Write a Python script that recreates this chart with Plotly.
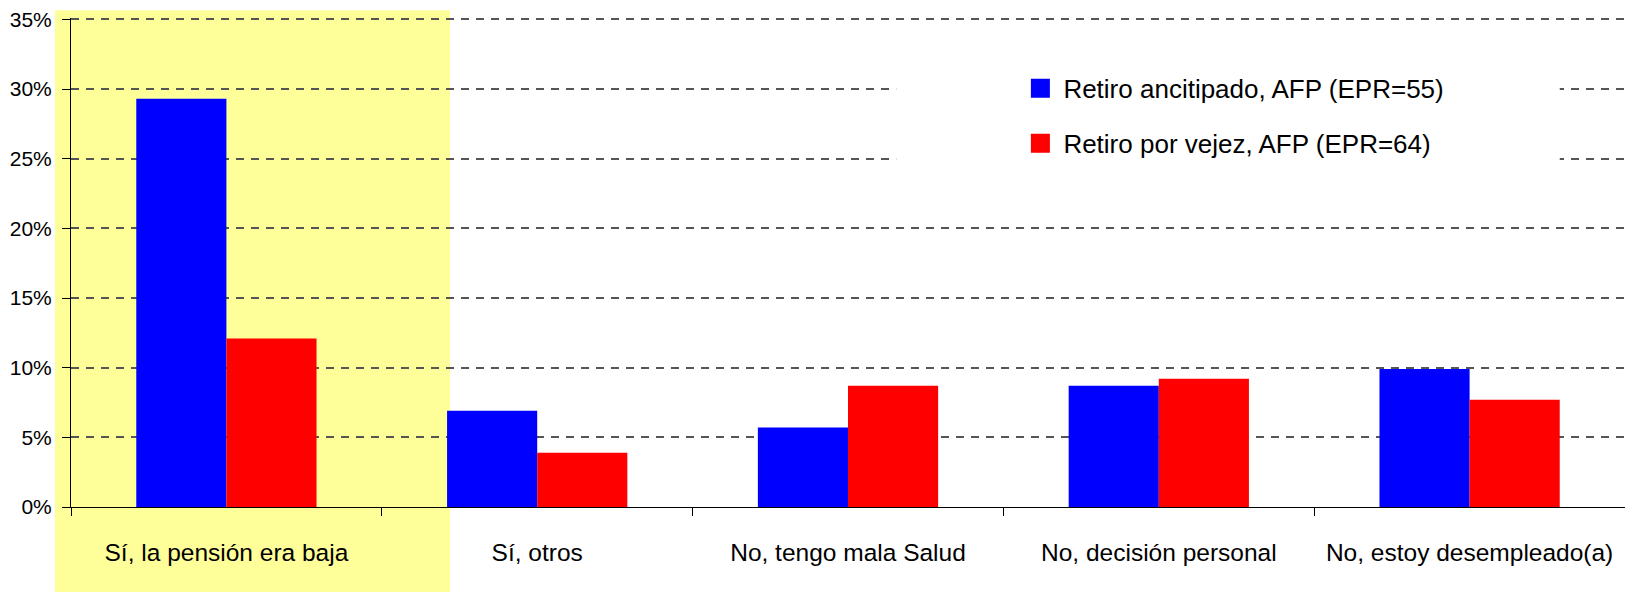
import plotly.graph_objects as go

categories = ["Sí, la pensión era baja", "Sí, otros", "No, tengo mala Salud",
              "No, decisión personal", "No, estoy desempleado(a)"]
series_names = ["Retiro ancitipado, AFP (EPR=55)", "Retiro por vejez, AFP (EPR=64)"]
anticipado = [29.3, 6.9, 5.7, 8.7, 9.9]
vejez = [12.1, 3.9, 8.7, 9.2, 7.7]
y_ticks = [0, 5, 10, 15, 20, 25, 30, 35]

BLUE = "#0000FF"
RED = "#FF0000"
FONT = "Liberation Sans, Arial, sans-serif"

fig = go.Figure()
fig.add_trace(go.Bar(x=categories, y=anticipado, name=series_names[0],
                     marker=dict(color=BLUE, line=dict(width=0)), showlegend=False))
fig.add_trace(go.Bar(x=categories, y=vejez, name=series_names[1],
                     marker=dict(color=RED, line=dict(width=0)), showlegend=False))

# legend entries (square swatches)
for name, col in zip(series_names, [BLUE, RED]):
    fig.add_trace(go.Scatter(x=[None], y=[None], mode="markers", name=name,
                             legendgroup=name,
                             marker=dict(symbol="square", size=16, color=col,
                                         line=dict(color=col, width=3))))

# the page body adds an 8px margin, so the figure is 8px smaller
fig.update_layout(
    width=1625, height=584,
    margin=dict(l=63, r=8, t=10, b=85),
    paper_bgcolor="white",
    plot_bgcolor="rgba(0,0,0,0)",
    barmode="group",
    bargap=0.42,
    bargroupgap=0,
    font=dict(family=FONT, color="black"),
    showlegend=True,
    legend=dict(x=0.609, xanchor="left", y=0.904, yanchor="top",
                bgcolor="rgba(0,0,0,0)", borderwidth=0,
                font=dict(size=26, family=FONT, color="black"),
                tracegroupgap=18, itemsizing="trace", itemwidth=36),
    shapes=[
        # highlighted first category
        dict(type="rect", xref="paper", yref="paper",
             x0=-0.0103, x1=0.2439, y0=-0.176, y1=1.016,
             fillcolor="#FFFF99", line=dict(width=0), layer="below"),
        # white area behind the legend
        dict(type="rect", xref="paper", yref="paper",
             x0=0.531, x1=0.958, y0=0.6386, y1=0.954,
             fillcolor="white", line=dict(width=0), layer="above"),
    ],
)

fig.update_xaxes(
    type="category", range=[-0.5, 4.5], automargin=False,
    showline=True, linecolor="black", linewidth=1,
    ticks="outside", tickson="boundaries", ticklen=8, tickcolor="black", tickwidth=1,
    showgrid=False,
    tickfont=dict(size=24.5, family=FONT, color="black"),
    ticklabelstandoff=24,
)
fig.update_yaxes(
    range=[0, 35.1], tickvals=y_ticks, ticktext=[f"{v}%" for v in y_ticks],
    automargin=False, ticklabeloverflow="allow",
    showline=True, linecolor="black", linewidth=1,
    ticks="outside", ticklen=8, tickcolor="black", tickwidth=1,
    showgrid=True, gridcolor="#555555", gridwidth=1.5, griddash="8px,7px",
    zeroline=False,
    tickfont=dict(size=21, family=FONT, color="black"),
    ticklabelstandoff=6,
)

fig.write_html("out.html")
